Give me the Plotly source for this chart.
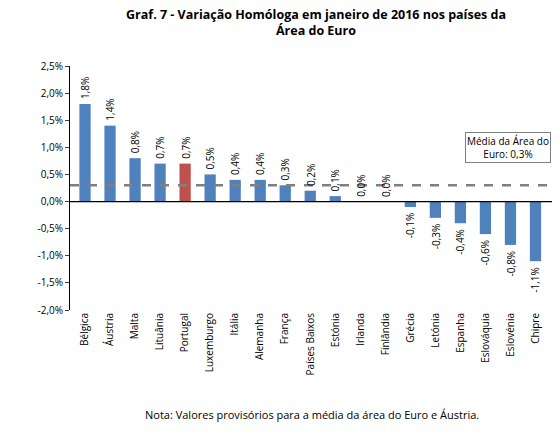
import plotly.graph_objects as go

paises = ["Bélgica", "Áustria", "Malta", "Lituânia", "Portugal", "Luxemburgo", "Itália",
          "Alemanha", "França", "Países Baixos", "Estónia", "Irlanda", "Finlândia",
          "Grécia", "Letónia", "Espanha", "Eslováquia", "Eslovénia", "Chipre"]
variacao = [1.8, 1.4, 0.8, 0.7, 0.7, 0.5, 0.4, 0.4, 0.3, 0.2, 0.1, 0.0, 0.0,
            -0.1, -0.3, -0.4, -0.6, -0.8, -1.1]
media_euro = 0.3
ticks_y = [2.5, 2.0, 1.5, 1.0, 0.5, 0.0, -0.5, -1.0, -1.5, -2.0]

cores = ["#C0504D" if p == "Portugal" else "#4F81BD" for p in paises]

fig = go.Figure()
fig.add_trace(go.Bar(x=paises, y=variacao, marker_color=cores, width=0.45))

for p, v in zip(paises, variacao):
    fig.add_annotation(x=p, y=v, text=f"{v:.1f}%".replace(".", ","), showarrow=False,
                       textangle=-90, font=dict(size=10, color="black"),
                       yanchor="bottom" if v >= 0 else "top",
                       yshift=3 if v >= 0 else -3)

fig.add_hline(y=0, line=dict(color="black", width=1.2))
fig.add_hline(y=media_euro, line=dict(color="#808080", width=2.5, dash="dash"))
fig.add_annotation(x=0.995, xref="paper", xanchor="right", y=0.72, yanchor="bottom",
                   text="Média da Área do<br>Euro: 0,3%", showarrow=False, align="center",
                   bordercolor="#808080", borderwidth=1, bgcolor="white",
                   font=dict(size=10, color="black"))

fig.update_layout(
    width=560, height=436, template="none", showlegend=False,
    font=dict(family="Open Sans, sans-serif", size=10, color="black"),
    title=dict(text="<b>Graf. 7 - Variação Homóloga em janeiro de 2016 nos países da<br>Área do Euro</b>",
               x=0.55, xanchor="center", y=0.975, font=dict(size=12.5)),
    margin=dict(l=62, r=15, t=58, b=134),
    plot_bgcolor="white", paper_bgcolor="white",
    annotations=list(fig.layout.annotations) + [dict(
        text="Nota: Valores provisórios para a média da área do Euro e Áustria.",
        x=0.5, xref="paper", y=-0.43, yref="paper", yanchor="middle",
        showarrow=False, font=dict(size=11))],
)
fig.update_xaxes(tickangle=-90, showgrid=False, ticks="", tickfont=dict(size=10),
                 range=[-0.6, len(paises) - 0.3])
fig.update_yaxes(range=[-2.0, 2.5], tickvals=ticks_y,
                 ticktext=[f"{t:.1f}%".replace(".", ",") for t in ticks_y],
                 showgrid=False, showline=True, linecolor="black", ticks="outside",
                 ticklen=4, zeroline=False, tickfont=dict(size=10))

fig.write_html("out.html")
